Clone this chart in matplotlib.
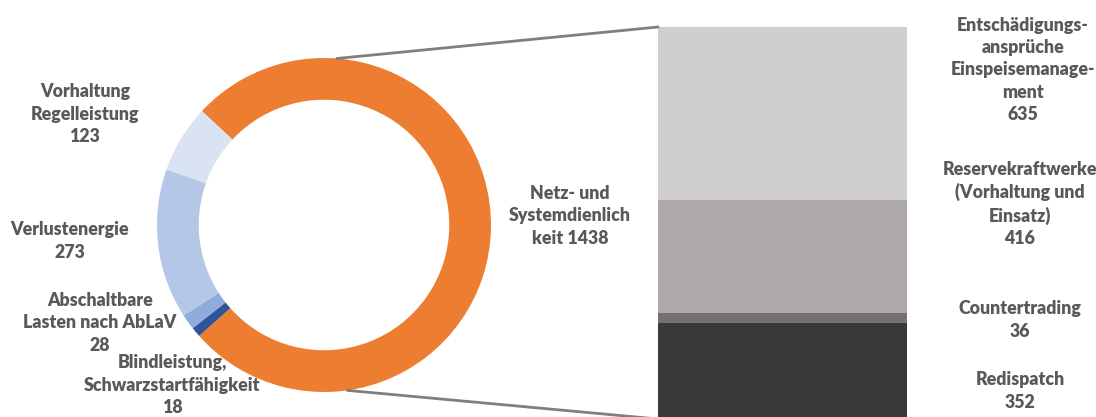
import matplotlib
matplotlib.use("Agg")
import matplotlib.pyplot as plt
from matplotlib.patches import ConnectionPatch
import numpy as np

plt.rcParams['font.family'] = ['Lato', 'DejaVu Sans']

# Donut data (clockwise from the main slice)
pie_labels = ["Netz- und\nSystemdienlich\nkeit", "Blindleistung,\nSchwarzstartfähigkeit",
              "Abschaltbare\nLasten nach AbLaV", "Verlustenergie", "Vorhaltung\nRegelleistung"]
pie_values = [1438, 18, 28, 273, 123]
pie_colors = ["#ED7D31", "#2F5597", "#8FAADC", "#B4C7E7", "#DAE3F3"]

# Bar data (bottom to top)
bar_labels = ["Redispatch", "Countertrading", "Reservekraftwerke\n(Vorhaltung und\nEinsatz)",
              "Entschädigungs-\nansprüche\nEinspeisemanage-\nment"]
bar_values = [352, 36, 416, 635]
bar_colors = ["#3A3838", "#767171", "#AEAAAA", "#D0CECE"]

W, H = 1096, 417
fig = plt.figure(figsize=(W / 100, H / 100), dpi=100)

def px_axes(x0, y0, x1, y1):
    return fig.add_axes([x0 / W, (H - y1) / H, (x1 - x0) / W, (y1 - y0) / H])

# Donut
cx, cy, r = 324, 225, 167
axp = px_axes(cx - r, cy - r, cx + r, cy + r)
total = sum(pie_values)
start_cw = -360 * pie_values[0] / total / 2 + 90.7  # clockwise-from-top angle of first slice start
axp.pie(pie_values, colors=pie_colors, startangle=90 - start_cw, counterclock=False,
        radius=1, wedgeprops=dict(width=0.25, edgecolor='none'))
axp.set_xlim(-1, 1)
axp.set_ylim(-1, 1)
axp.set_aspect('equal')
axp.axis('off')

# Stacked bar
axb = px_axes(658, 27, 907, 419)
bottoms = np.concatenate([[0], np.cumsum(bar_values)[:-1]])
axb.bar([0] * len(bar_values), bar_values, bottom=bottoms, width=1.0, color=bar_colors)
axb.set_xlim(-0.5, 0.5)
axb.set_ylim(0, sum(bar_values))
axb.axis('off')

# Connector lines
def circ(theta_cw):
    t = np.deg2rad(90 - theta_cw)
    return (np.cos(t), np.sin(t))

for th, yb in [(4.4, sum(bar_values)), (172, 0)]:
    con = ConnectionPatch(xyA=circ(th), coordsA=axp.transData,
                          xyB=(-0.5, yb), coordsB=axb.transData,
                          color="#7F7F7F", lw=2)
    fig.add_artist(con)

tcol = "#595959"
fs = 12.8
def label(x, y, txt):
    fig.text(x / W, 1 - y / H, txt, ha='center', va='center', fontsize=fs,
             fontweight='heavy', color=tcol, linespacing=1.36)

pie_pos = [(570, 216), (172, 385), (100, 323), (70, 241), (85, 114)]
for (x, y), lab, v in zip(pie_pos, pie_labels, pie_values):
    if v == pie_values[0]:
        label(x, y, f"{lab} {v}")
    else:
        label(x, y, f"{lab}\n{v}")

bar_pos = [(1020, 391), (1020, 320), (1020, 204), (1023, 70)]
for (x, y), lab, v in zip(bar_pos, bar_labels, bar_values):
    label(x, y, f"{lab}\n{v}")

fig.savefig("out.png", dpi=100)
